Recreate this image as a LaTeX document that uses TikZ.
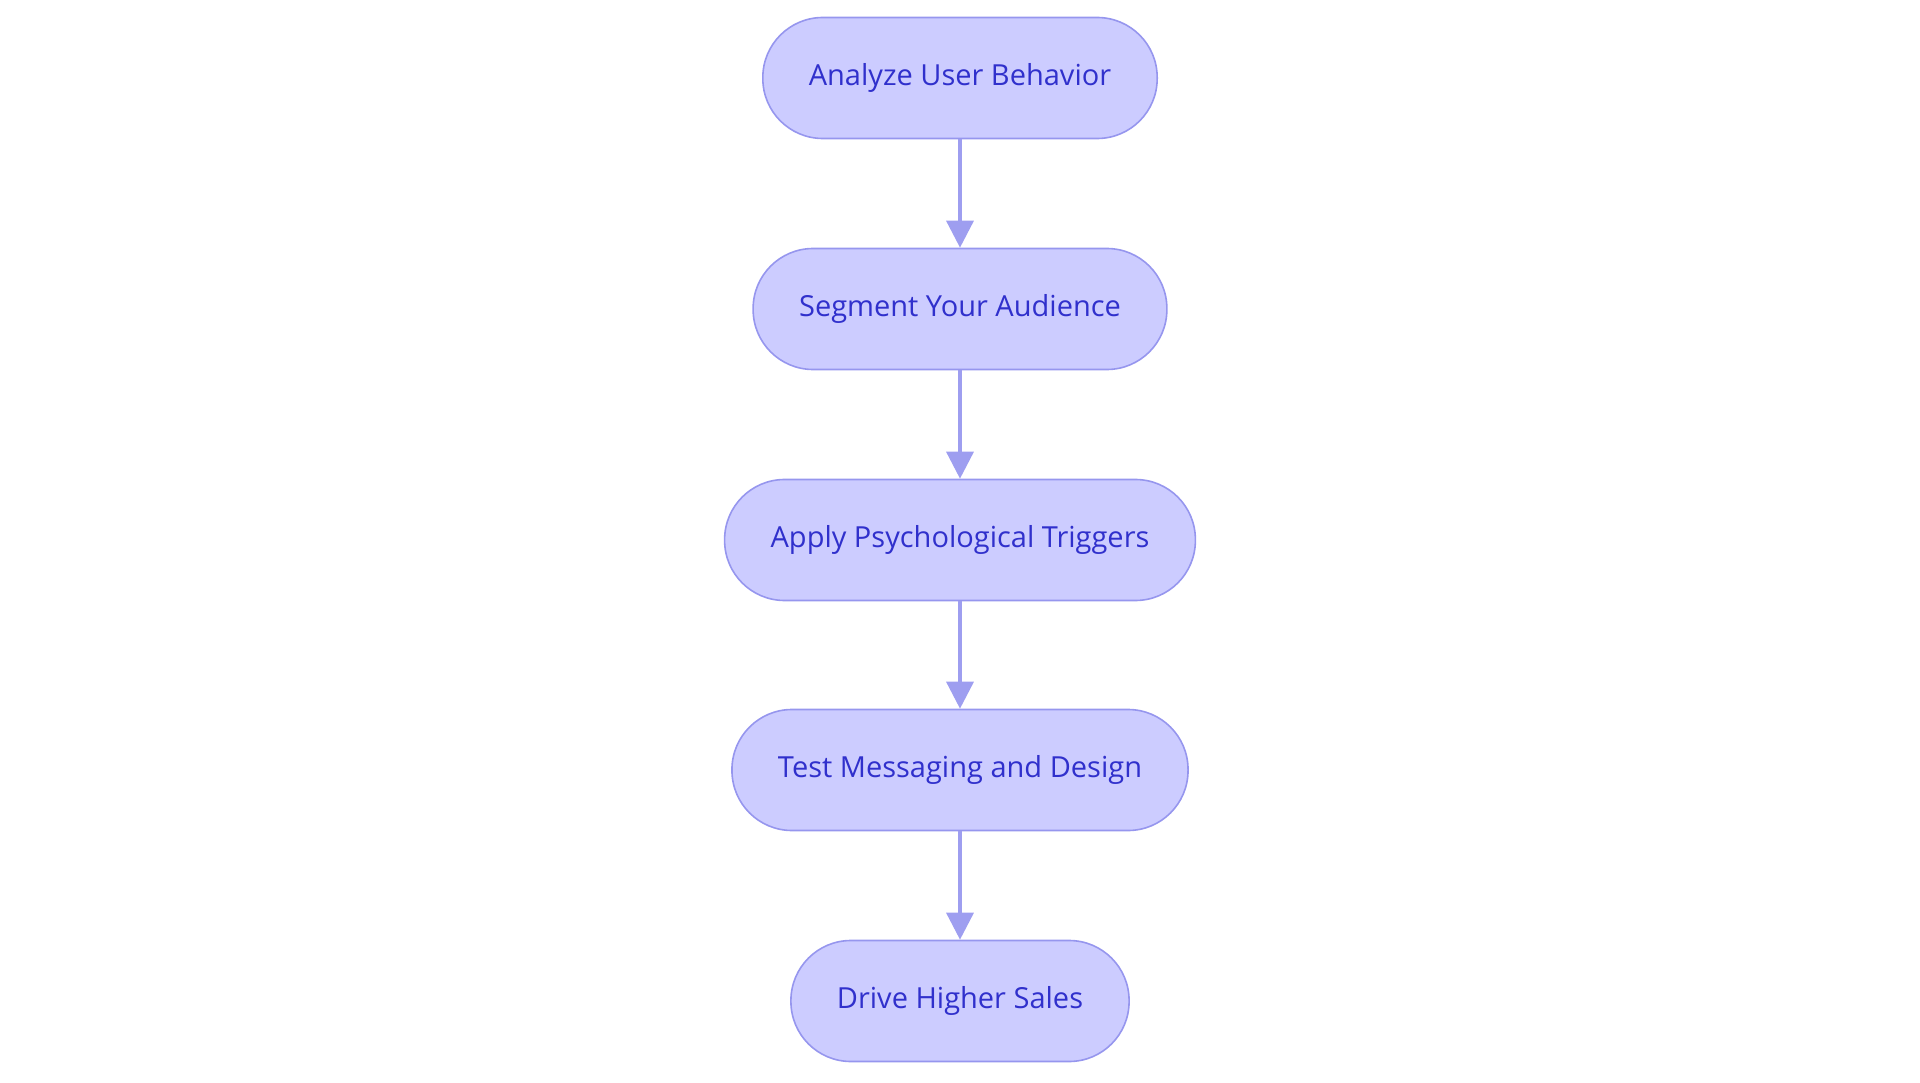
\documentclass[tikz,border=0pt]{standalone}
\usepackage{fontspec}
\setmainfont{Open Sans}
\usetikzlibrary{arrows.meta,shapes}

\definecolor{stepfill}{RGB}{204,204,255}
\definecolor{stepline}{RGB}{150,150,238}
\definecolor{steptext}{RGB}{48,48,204}
\definecolor{flowline}{RGB}{158,158,240}

\tikzset{
  stepbox/.style={draw=stepline, line width=1.6pt, fill=stepfill, text=steptext,
    rounded corners=60pt, minimum height=121pt, inner xsep=46pt,
    font=\fontsize{29}{34}\selectfont},
  flow/.style={draw=flowline, line width=3.5pt,
    -{Triangle[length=27pt,width=27pt]}}
}

\begin{document}
\begin{tikzpicture}[x=1pt,y=-1pt]
        \useasboundingbox (0,0) rectangle (1920,1083);
        \node [stepbox] (analyze) at (960,78)   {Analyze User Behavior};
        \node [stepbox] (segment) at (960,309)  {Segment Your Audience};
        \node [stepbox] (trigger) at (960,540)  {Apply Psychological Triggers};
        \node [stepbox] (testing) at (960,770)  {Test Messaging and Design};
        \node [stepbox] (sales)   at (960,1001) {Drive Higher Sales};

        \draw [flow] (analyze) -- (segment);
        \draw [flow] (segment) -- (trigger);
        \draw [flow] (trigger) -- (testing);
        \draw [flow] (testing) -- (sales);
\end{tikzpicture}
\end{document}
